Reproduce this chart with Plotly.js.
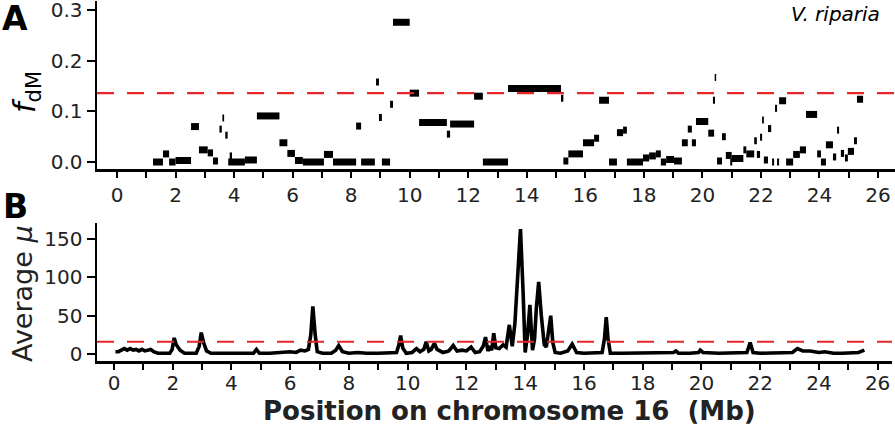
<!DOCTYPE html>
<html>
<head>
<meta charset="utf-8">
<script src="https://cdn.plot.ly/plotly-3.0.1.min.js"></script>
<style>
html,body{margin:0;padding:0;background:#fff;}
#chart{width:895px;height:428px;}
</style>
</head>
<body>
<div id="chart"></div>
<script>
// Panel A: f_dM windows (start Mb, end Mb, value)
const segStart = [1.23,1.57,1.78,2.00,2.53,2.80,3.10,3.28,3.50,3.60,3.70,3.80,3.85,4.37,4.78,5.55,5.82,6.08,6.35,7.07,7.38,8.17,8.34,8.85,8.95,9.05,9.33,9.43,10.00,10.32,11.27,11.38,12.20,12.50,13.36,15.17,15.25,15.42,15.92,16.30,16.47,16.81,17.08,17.29,17.42,17.97,18.18,18.41,18.58,18.76,19.03,19.30,19.50,19.64,19.78,20.20,20.36,20.42,20.50,20.67,20.80,20.95,21.00,21.40,21.50,21.77,21.86,21.97,22.04,22.10,22.24,22.38,22.48,22.55,22.62,22.86,23.10,23.33,23.54,23.92,24.05,24.22,24.46,24.60,24.73,24.87,24.97,25.18,25.28];
const segEnd   = [1.57,1.78,2.00,2.53,2.80,3.10,3.28,3.45,3.58,3.66,3.78,4.37,3.93,4.78,5.55,5.82,6.08,6.35,7.07,7.38,8.17,8.34,8.81,8.95,9.05,9.33,9.43,10.00,10.32,11.27,11.38,12.20,12.50,13.36,15.17,15.25,15.42,15.92,16.30,16.47,16.81,17.08,17.29,17.42,17.97,18.18,18.41,18.58,18.76,19.03,19.30,19.50,19.64,19.78,20.20,20.40,20.43,20.47,20.67,20.80,21.00,21.02,21.40,21.50,21.77,21.86,21.97,22.04,22.10,22.24,22.35,22.45,22.55,22.62,22.86,23.10,23.33,23.54,23.92,24.05,24.22,24.46,24.57,24.67,24.84,24.97,25.18,25.28,25.49];
const fdM      = [0.000,0.016,0.000,0.003,0.070,0.024,0.018,0.002,0.065,0.087,0.053,0.000,0.012,0.004,0.091,0.038,0.017,0.003,0.000,0.015,0.000,0.071,0.000,0.158,0.088,0.000,0.114,0.276,0.136,0.078,0.055,0.075,0.130,0.000,0.145,0.126,0.002,0.016,0.038,0.047,0.122,0.000,0.058,0.063,0.000,0.008,0.012,0.016,0.000,0.005,0.002,0.038,0.065,0.038,0.080,0.057,0.122,0.167,0.002,0.050,0.013,0.000,0.007,0.024,0.016,0.042,0.015,0.049,0.083,0.004,0.066,0.000,0.106,0.000,0.121,0.000,0.015,0.024,0.094,0.016,0.000,0.034,0.010,0.063,0.017,0.008,0.021,0.042,0.124];
const fdMThreshold = 0.136;

// Panel B: average mu along chromosome
const posMb = [0.05,0.15,0.25,0.35,0.45,0.55,0.65,0.75,0.85,0.95,1.05,1.15,1.25,1.35,1.5,1.7,1.9,1.98,2.05,2.12,2.25,2.4,2.6,2.8,2.9,2.97,3.05,3.15,3.3,3.6,4.0,4.4,4.75,4.85,4.95,5.3,5.7,6.0,6.2,6.35,6.5,6.62,6.7,6.77,6.85,6.92,7.1,7.4,7.55,7.65,7.78,8.0,8.3,8.6,9.0,9.4,9.62,9.7,9.76,9.83,9.95,10.15,10.3,10.42,10.55,10.63,10.72,10.8,10.91,11.0,11.2,11.4,11.55,11.68,11.85,12.0,12.16,12.3,12.45,12.57,12.65,12.73,12.8,12.86,12.93,13.0,13.12,13.25,13.35,13.46,13.56,13.65,13.75,13.84,13.93,14.0,14.08,14.16,14.25,14.32,14.38,14.46,14.55,14.65,14.72,14.8,14.87,14.94,15.02,15.2,15.45,15.6,15.75,16.0,16.4,16.62,16.7,16.76,16.82,16.9,17.3,18.0,18.7,19.05,19.13,19.22,19.6,19.9,19.96,20.05,20.6,21.2,21.55,21.66,21.76,22.0,22.6,23.1,23.27,23.45,23.7,24.0,24.2,24.5,24.8,25.1,25.35,25.55];
const avgMu = [3,3,5,7,5,7,5,6,4,6,4,5,6,3,1,1,1,6,21,12,5,1,1,1,10,28,15,4,1,1,1,2,1,6,1,1,2,3,2,5,4,6,25,62,25,3,1,1,5,11,3,1,2,1,1,1,2,12,24,8,1,2,7,3,6,16,4,6,14,6,2,4,11,4,5,4,9,2,3,10,22,4,10,5,27,8,7,12,9,38,10,40,110,163,80,2,25,64,5,20,60,94,50,12,9,30,50,15,2,1,4,13,2,1,1,2,20,48,20,1,1,1,1,2,4,1,1,2,5,2,1,1,2,15,2,1,1,2,7,4,4,2,3,1,1,1,2,5];
const muThreshold = 16;

const xTickVals = [0,2,4,6,8,10,12,14,16,18,20,22,24,26];
const xMinorTickVals = [1,3,5,7,9,11,13,15,17,19,21,23,25];
const fdMTickVals = [0, 0.1, 0.2, 0.3];
const fdMTickText = ['0.0', '0.1', '0.2', '0.3'];
const muTickVals = [0, 50, 100, 150];

// build segment line data from arrays
const segX = [], segY = [];
for (let i = 0; i < segStart.length; i++) {
  segX.push(segStart[i], segEnd[i], null);
  segY.push(fdM[i], fdM[i], null);
}

const W = 895, H = 428;
const px = v => v / W;
const py = v => 1 - v / H;

const FONT = 'DejaVu Sans, Liberation Sans, Arial, sans-serif';

const traces = [
  {x: segX, y: segY, xaxis: 'x', yaxis: 'y', type: 'scatter', mode: 'lines',
   line: {color: '#000', width: 7}, connectgaps: false, hoverinfo: 'skip'},
  {x: posMb, y: avgMu, xaxis: 'x2', yaxis: 'y2', type: 'scatter', mode: 'lines',
   line: {color: '#000', width: 3.6}, hoverinfo: 'skip', cliponaxis: false}
];

const axisCommon = {
  showgrid: false, zeroline: false, showline: true, linecolor: '#000', linewidth: 2.5,
  ticks: 'outside', tickcolor: '#000', tickwidth: 2, ticklabeloverflow: 'allow',
  tickfont: {family: FONT, size: 20, color: '#222'}
};
const xMinor = {tickmode: 'array', tickvals: xMinorTickVals, ticks: 'outside', ticklen: 6,
  tickwidth: 2, tickcolor: '#000', showgrid: false};

const layout = {
  width: W, height: H,
  margin: {l: 0, r: 0, t: 0, b: 0},
  paper_bgcolor: '#fff', plot_bgcolor: '#fff',
  showlegend: false,
  xaxis: Object.assign({}, axisCommon, {
    domain: [px(97), 1], range: [-0.683, 26.58], anchor: 'y',
    tickmode: 'array', tickvals: xTickVals, ticklen: 6, ticklabelstandoff: 0, minor: xMinor
  }),
  yaxis: Object.assign({}, axisCommon, {
    domain: [py(169), py(1)], range: [-0.0138, 0.318], anchor: 'x',
    tickmode: 'array', tickvals: fdMTickVals, ticktext: fdMTickText, ticklen: 8
  }),
  xaxis2: Object.assign({}, axisCommon, {
    domain: [px(97), px(892)], range: [-0.579, 26.49], anchor: 'y2',
    tickmode: 'array', tickvals: xTickVals, ticklen: 6, ticklabelstandoff: -4, minor: xMinor
  }),
  yaxis2: Object.assign({}, axisCommon, {
    domain: [py(361), py(223)], range: [-9.13, 170.9], anchor: 'x2',
    tickmode: 'array', tickvals: muTickVals, ticklen: 8
  }),
  shapes: [
    {type: 'line', xref: 'x domain', yref: 'y', x0: 0, x1: 1, y0: fdMThreshold, y1: fdMThreshold,
     line: {color: '#e8262b', width: 2.2, dash: '17px,13px'}},
    {type: 'line', xref: 'x2 domain', yref: 'y2', x0: 0, x1: 1, y0: muThreshold, y1: muThreshold,
     line: {color: '#e8262b', width: 2.2, dash: '17px,13px'}}
  ],
  annotations: [
    {text: '<b>A</b>', xref: 'paper', yref: 'paper', x: px(15), y: py(19), showarrow: false,
     font: {family: FONT, size: 33, color: '#000'}, xanchor: 'center', yanchor: 'middle'},
    {text: '<b>B</b>', xref: 'paper', yref: 'paper', x: px(15), y: py(206), showarrow: false,
     font: {family: FONT, size: 33, color: '#000'}, xanchor: 'center', yanchor: 'middle'},
    {text: '<i>V. riparia</i>', xref: 'paper', yref: 'paper', x: px(882), y: py(14), showarrow: false,
     font: {family: FONT, size: 20, color: '#000'}, xanchor: 'right', yanchor: 'middle'},
    {text: '<i>f</i><sub>dM</sub>', xref: 'paper', yref: 'paper', x: px(26), y: py(92), showarrow: false,
     textangle: -90, font: {family: FONT, size: 30, color: '#000'}, xanchor: 'center', yanchor: 'middle'},
    {text: 'Average <i>μ</i>', xref: 'paper', yref: 'paper', x: px(22), y: py(294), showarrow: false,
     textangle: -90, font: {family: FONT, size: 27, color: '#222'}, xanchor: 'center', yanchor: 'middle'},
    {text: '<b>Position on chromosome 16  (Mb)</b>', xref: 'paper', yref: 'paper', x: px(510), y: py(411), showarrow: false,
     font: {family: FONT, size: 26, color: '#222'}, xanchor: 'center', yanchor: 'middle'}
  ]
};

Plotly.newPlot('chart', traces, layout, {staticPlot: true, displayModeBar: false});
</script>
</body>
</html>
